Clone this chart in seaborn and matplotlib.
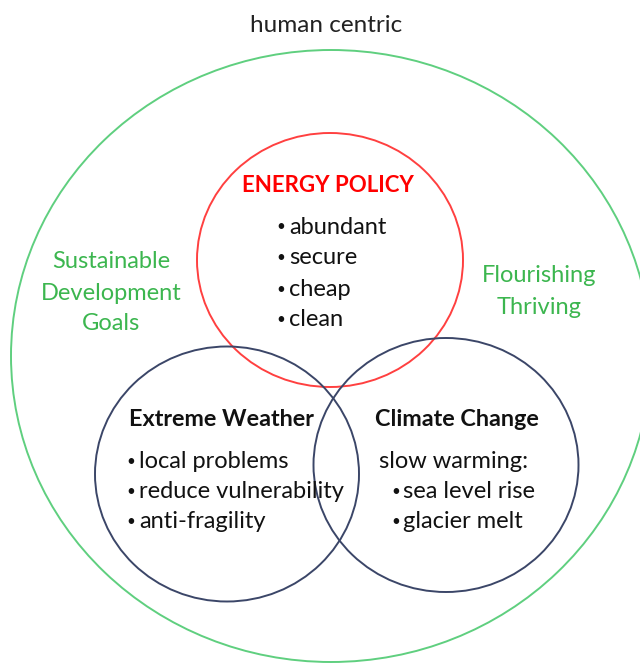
import matplotlib
matplotlib.use("Agg")
import matplotlib.pyplot as plt
from matplotlib.patches import Ellipse
import seaborn as sns

# circles of the diagram (pixel space of the original picture)
circle_names = ["human centric", "ENERGY POLICY", "Extreme Weather", "Climate Change"]
circle_x = [331, 330, 227, 446]
circle_y = [356, 260, 474, 465]
circle_w = [640, 266, 264, 265]
circle_h = [612, 254, 255, 254]
circle_colors = ["#5fcf7f", "#ff4040", "#3b4668", "#3b4668"]

# headings
heading_text = ["human centric", "ENERGY POLICY", "Extreme Weather", "Climate Change"]
heading_x = [326, 328, 221, 457]
heading_y = [25, 186, 420, 420]
heading_colors = ["#222222", "#ff0000", "#111111", "#111111"]
heading_weight = ["normal", "bold", "bold", "bold"]
heading_size = [17.5, 16, 16.8, 16.8]

# bullet lists
energy_items = ["abundant", "secure", "cheap", "clean"]
energy_y = [227, 258, 290, 320]
weather_items = ["local problems", "reduce vulnerability", "anti-fragility"]
weather_y = [462, 492, 522]
climate_intro = "slow warming:"
climate_items = ["sea level rise", "glacier melt"]
climate_y = [462, 492, 522]

# green side notes
left_note = ["Sustainable", "Development", "Goals"]
left_note_y = [262, 293, 323]
right_note = ["Flourishing", "Thriving"]
right_note_y = [275, 307]
note_color = "#3cb64f"

BODY = 17
BULLET = 11

sns.set_theme(style="white")
plt.rcParams['font.family'] = ['Lato', 'DejaVu Sans']

fig = plt.figure(figsize=(6.4, 6.63), dpi=100)
ax = fig.add_axes([0, 0, 1, 1])
ax.set_xlim(0, 640)
ax.set_ylim(663, 0)
ax.axis('off')

for x, y, w, h, c in zip(circle_x, circle_y, circle_w, circle_h, circle_colors):
    ax.add_patch(Ellipse((x, y), w, h, fill=False, edgecolor=c, linewidth=1.4))

for t, x, y, c, wt, s in zip(heading_text, heading_x, heading_y, heading_colors, heading_weight, heading_size):
    ax.text(x, y, t, ha='center', va='center', color=c, fontweight=wt, fontsize=s)


def bullets(items, ys, bx, tx):
    for t, y in zip(items, ys):
        ax.text(bx, y, "\u2022", ha='left', va='center', color="#111111", fontsize=BULLET)
        ax.text(tx, y, t, ha='left', va='center', color="#111111", fontsize=BODY)


bullets(energy_items, energy_y, 276, 289)
bullets(weather_items, weather_y, 126, 139)
ax.text(379, climate_y[0], climate_intro, ha='left', va='center', color="#111111", fontsize=BODY)
bullets(climate_items, climate_y[1:], 391, 403)

for t, y in zip(left_note, left_note_y):
    ax.text(111, y, t, ha='center', va='center', color=note_color, fontsize=BODY)
for t, y in zip(right_note, right_note_y):
    ax.text(539, y, t, ha='center', va='center', color=note_color, fontsize=BODY)

fig.savefig("out.png", dpi=100)
